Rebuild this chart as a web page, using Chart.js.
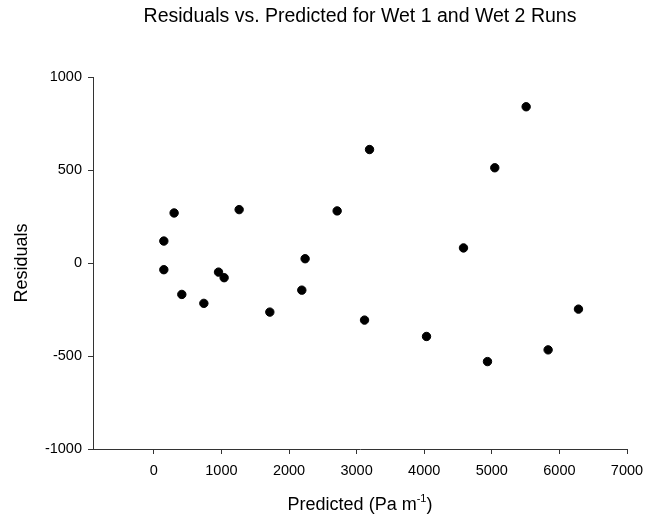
<!DOCTYPE html>
<html>
<head>
<meta charset="utf-8">
<script src="https://cdn.jsdelivr.net/npm/chart.js@4.4.1/dist/chart.umd.min.js"></script>
<style>
  html, body { margin: 0; padding: 0; background: #fff; }
  canvas { display: block; }
</style>
</head>
<body>
<canvas id="residualChart" width="663" height="519"></canvas>
<script>
// predicted flow resistance vs. model residual, wet runs 1 and 2
const predicted = [148, 148, 300, 414, 740, 957, 1040, 1262, 1716, 2189, 2238, 2712,
  3117, 3191, 4034, 4581, 4936, 5044, 5508, 5833, 6282];
const residuals = [118, -36, 269, -169, -217, -49, -79, 287, -264, -146, 23, 280,
  -307, 610, -395, 81, -530, 512, 840, -467, -248];
const xTicks = [0, 1000, 2000, 3000, 4000, 5000, 6000, 7000];
const yTicks = [-1000, -500, 0, 500, 1000];

const chartTitle = 'Residuals vs. Predicted for Wet 1 and Wet 2 Runs';
const axisColor = '#333';
const fontFamily = '"Liberation Sans", Arial, sans-serif';

const points = predicted.map((x, i) => ({ x: x, y: residuals[i] }));

// title and axis titles (x title needs a superscript)
const labelsPlugin = {
  id: 'labels',
  afterDraw(chart) {
    const ctx = chart.ctx;
    const area = chart.chartArea;
    const midX = (area.left + area.right) / 2;
    ctx.save();
    ctx.fillStyle = '#000';
    ctx.textBaseline = 'alphabetic';

    ctx.font = '19.5px ' + fontFamily;
    ctx.textAlign = 'center';
    ctx.fillText(chartTitle, midX, 22);

    // y title
    ctx.font = '18px ' + fontFamily;
    ctx.save();
    ctx.translate(27, (area.top + area.bottom) / 2);
    ctx.rotate(-Math.PI / 2);
    ctx.fillText('Residuals', 0, 0);
    ctx.restore();

    // x title with m^-1
    const main = 'Predicted (Pa m';
    const sup = '-1';
    const tail = ')';
    ctx.font = '18px ' + fontFamily;
    const wMain = ctx.measureText(main).width;
    const wTail = ctx.measureText(tail).width;
    ctx.font = '11px ' + fontFamily;
    const wSup = ctx.measureText(sup).width;
    let x = midX - (wMain + wSup + wTail) / 2;
    const y = 510;
    ctx.textAlign = 'left';
    ctx.font = '18px ' + fontFamily;
    ctx.fillText(main, x, y);
    x += wMain;
    ctx.font = '11px ' + fontFamily;
    ctx.fillText(sup, x, y - 8);
    x += wSup;
    ctx.font = '18px ' + fontFamily;
    ctx.fillText(tail, x, y);
    ctx.restore();
  }
};

new Chart(document.getElementById('residualChart'), {
  type: 'scatter',
  data: {
    datasets: [{
      data: points,
      backgroundColor: '#000',
      borderColor: '#000',
      pointRadius: 4.2,
      pointHoverRadius: 4.2
    }]
  },
  options: {
    responsive: false,
    animation: false,
    devicePixelRatio: 1,
    layout: { padding: { top: 77, right: 36, bottom: 0, left: 0 } },
    plugins: {
      legend: { display: false },
      tooltip: { enabled: false }
    },
    scales: {
      x: {
        type: 'linear',
        min: -900,
        max: 7000,
        afterBuildTicks: (scale) => {
          scale.ticks = xTicks.map(v => ({ value: v }));
        },
        afterFit: (scale) => { scale.height = 70; },
        grid: {
          drawOnChartArea: false,
          drawTicks: true,
          tickLength: 5,
          color: axisColor
        },
        border: { display: true, color: axisColor, width: 1 },
        ticks: {
          color: '#000',
          padding: 8,
          maxRotation: 0,
          font: { family: fontFamily, size: 14.5 },
          callback: (v) => String(v)
        }
      },
      y: {
        type: 'linear',
        min: -1000,
        max: 1000,
        afterBuildTicks: (scale) => {
          scale.ticks = yTicks.map(v => ({ value: v }));
        },
        afterFit: (scale) => { scale.width = 93; },
        grid: {
          drawOnChartArea: false,
          drawTicks: true,
          tickLength: 5,
          color: axisColor
        },
        border: { display: true, color: axisColor, width: 1 },
        ticks: {
          color: '#000',
          padding: 6,
          font: { family: fontFamily, size: 14.5 },
          callback: (v) => String(v)
        }
      }
    }
  },
  plugins: [labelsPlugin]
});
</script>
</body>
</html>
